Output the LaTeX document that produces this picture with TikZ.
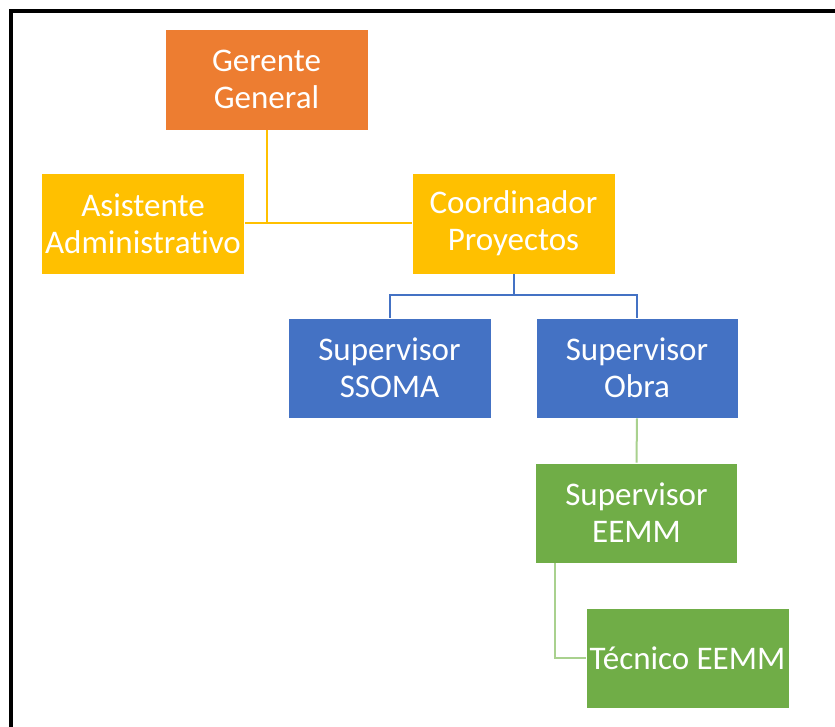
\documentclass[tikz,border=0pt]{standalone}
\usepackage{fontspec}
\setmainfont{Carlito}[Ligatures=NoCommon]
\definecolor{cOrange}{HTML}{ED7D31}
\definecolor{cYellow}{HTML}{FFC000}
\definecolor{cBlue}{HTML}{4472C4}
\definecolor{cGreen}{HTML}{70AD47}
\definecolor{cGreenL}{HTML}{A9D18E}
\begin{document}
\begin{tikzpicture}[x=1pt,y=-1pt,
  box/.style={rectangle, draw=white, line width=0.6pt, inner sep=0pt, align=center, text=white,
    font=\fontsize{33}{37}\selectfont, minimum width=203pt, minimum height=101pt},
  yline/.style={draw=cYellow, line width=2pt},
  bline/.style={draw=cBlue, line width=2pt},
  gline/.style={draw=cGreenL, line width=2pt}]
\useasboundingbox (0,0) rectangle (835,727);
\fill[white] (0,0) rectangle (835,727);
\draw[line width=3.2pt, black] (11,730) -- (11,11) -- (838,11);
\node[box, fill=cOrange] (GG) at (266.5,79.5) {Gerente\\General};
\node[box, fill=cYellow] (AA) at (143,223.5) {Asistente\\Administrativo};
\node[box, fill=cYellow] (CP) at (513.5,223.5) {Coordinador\\Proyectos};
\node[box, fill=cBlue, minimum height=100pt] (SS) at (389.5,368) {Supervisor\\SSOMA};
\node[box, fill=cBlue, minimum height=100pt, minimum width=202pt] (SO) at (637,368) {Supervisor\\Obra};
\node[box, fill=cGreen, minimum height=100pt, minimum width=202pt] (SE) at (636.5,513) {Supervisor\\EEMM};
\node[box, fill=cGreen, minimum height=100pt] (TE) at (687.5,658) {T\'ecnico EEMM};
\coordinate (jy) at (CP.south |- 0,295);
\draw[yline] (GG.south) -- (GG.south |- CP.west);
\draw[yline] (AA.east) -- (CP.west);
\draw[bline] (CP.south) -- (jy);
\draw[bline] (jy) -| (SS.north);
\draw[bline] (jy) -| (SO.north);
\draw[gline] (SO.south) -- (SE.north);
\draw[gline] ([xshift=20pt]SE.south west) |- (TE.west);
\end{tikzpicture}
\end{document}
